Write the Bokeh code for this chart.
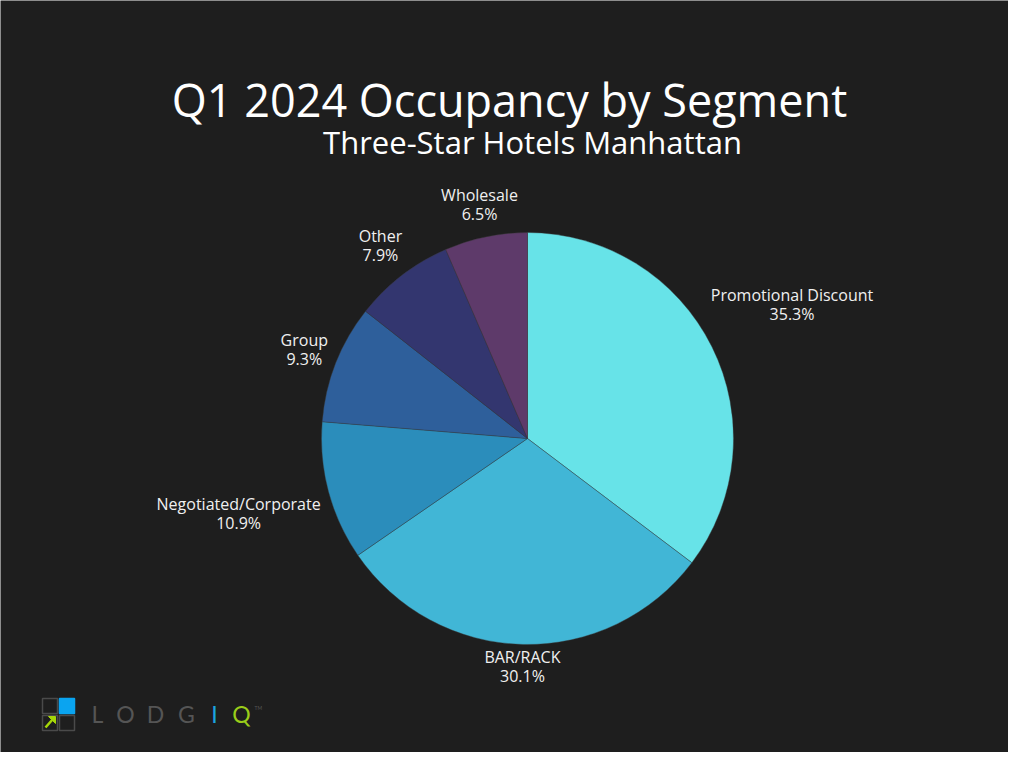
import math
from bokeh.plotting import figure
from bokeh.models import Range1d
from bokeh.core.properties import value
from bokeh.embed import file_html
from bokeh.resources import INLINE

# ---- data ----
segments = ["Promotional Discount", "BAR/RACK", "Negotiated/Corporate", "Group", "Other", "Wholesale"]
shares = [35.3, 30.1, 10.9, 9.3, 7.9, 6.5]
colors = ["#67E3E8", "#41B6D6", "#2B8DBB", "#2E5F9B", "#33366F", "#5E3A6A"]
title_text = "Q1 2024 Occupancy by Segment"
subtitle_text = "Three-Star Hotels Manhattan"

BG = "#1E1E1E"
W, H = 1008, 752
FONT = "Open Sans"
BL = 0.4  # baseline correction (fraction of font size)

p = figure(width=W, height=H, output_backend="svg", toolbar_location=None,
           x_range=Range1d(0, 1008), y_range=Range1d(16, 768), min_border=0,
           background_fill_color=BG, border_fill_color=BG, outline_line_color=None)
p.axis.visible = False
p.grid.visible = False

def Y(py, fs=0):
    return 768 - py + BL * fs

cx, cy, R = 527, Y(438), 206
total = sum(shares)
cum = 0.0
starts, ends, mids = [], [], []
for s in shares:
    a0 = math.pi / 2 - 2 * math.pi * cum / total
    cum += s
    a1 = math.pi / 2 - 2 * math.pi * cum / total
    starts.append(a0); ends.append(a1); mids.append((a0 + a1) / 2)

p.wedge(x=[cx] * len(shares), y=[cy] * len(shares), radius=R,
        start_angle=starts, end_angle=ends, direction="clock",
        fill_color=colors, line_color="#3a3a3a", line_width=0.4)

# outside labels: nearest corner of label box at R + pad, centre on the radial ray
fs = 16
pad = 8
lx, ly_name, ly_pct = [], [], []
pct_labels = []
for name, s, m in zip(segments, shares, mids):
    w = max(len(name), len(f"{s:.1f}%")) * 0.52 * fs / 2
    h = 18
    ux, uy = math.cos(m), math.sin(m)
    b = abs(ux) * w + abs(uy) * h
    d = b + math.sqrt(b * b - (w * w + h * h - (R + pad) ** 2))
    px = cx + d * ux
    pyc = cy + d * uy
    lx.append(px)
    ly_name.append(pyc + 5 + BL * fs)
    ly_pct.append(pyc - 14 + BL * fs)
    pct_labels.append(f"{s:.1f}%")

p.text(x=lx, y=ly_name, text=segments, text_align="center", text_baseline="alphabetic",
       text_color="#F0F0F0", text_font=value(FONT), text_font_size=f"{fs}px")
p.text(x=lx, y=ly_pct, text=pct_labels, text_align="center", text_baseline="alphabetic",
       text_color="#F0F0F0", text_font=value(FONT), text_font_size=f"{fs}px")

# titles
p.text(x=[509], y=[Y(117, 45)], text=[title_text], text_align="center", text_baseline="alphabetic",
       text_color="#FFFFFF", text_font=value(FONT), text_font_size="45px")
p.text(x=[532], y=[Y(154, 31)], text=[subtitle_text], text_align="center", text_baseline="alphabetic",
       text_color="#FFFFFF", text_font=value(FONT), text_font_size="31px")

# logo
sq = 15
sq_x = [49.5, 66.5, 49.5, 66.5]
sq_y = [Y(705.5), Y(705.5), Y(722.5), Y(722.5)]
sq_fill = [BG, "#0AA4F0", BG, BG]
sq_line = ["#4A4A4A", "#0AA4F0", "#4A4A4A", "#4A4A4A"]
p.rect(x=sq_x, y=sq_y, width=sq, height=sq, fill_color=sq_fill, line_color=sq_line, line_width=1.5)
p.line(x=[45, 52], y=[Y(727), Y(719)], line_color="#A6D608", line_width=2.5)
p.patch(x=[55, 48, 55], y=[Y(716), Y(716), Y(723)], fill_color="#A6D608", line_color="#A6D608")
logo_letters = ["L", "O", "D", "G", "I", "Q"]
logo_x = [97, 125, 155, 186, 214, 241]
logo_col = ["#555555", "#555555", "#555555", "#555555", "#1BA3E0", "#9ACD1A"]
p.text(x=logo_x, y=[Y(723, 23)] * 6, text=logo_letters, text_align="center", text_baseline="alphabetic",
       text_color=logo_col, text_font=value("Lato"), text_font_size="23px", text_font_style="normal")
p.text(x=[254], y=[Y(709, 5)], text=["TM"], text_align="left", text_baseline="alphabetic",
       text_color="#555555", text_font=value("Lato"), text_font_size="5px")

html = file_html(p, INLINE)
html = html.replace("<body>", f'<body style="background-color:{BG};">', 1)
open("out.html", "w").write(html)
